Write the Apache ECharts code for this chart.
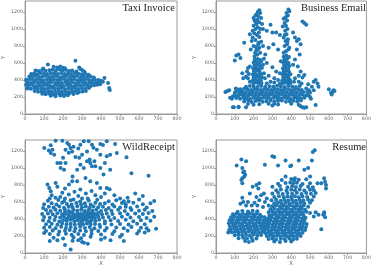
<!DOCTYPE html>
<html><head><meta charset="utf-8">
<script src="https://cdn.jsdelivr.net/npm/echarts@6/dist/echarts.min.js"></script>
<style>html,body{margin:0;padding:0;background:#fff}#c{width:374px;height:269px}</style>
</head><body><div id="c"></div>
<script>
var panelTitles = ['Taxi Invoice', 'Business Email', 'WildReceipt', 'Resume'];
var xTicks = [0, 100, 200, 300, 400, 500, 600, 700, 800];
var yTicks = [0, 200, 400, 600, 800, 1000, 1200];

var taxiPoints = [
[120,582],[150,555],[168,548],[185,560],[200,545],[210,538],[95,535],[285,548],[265,627],[290,530],
[55,512],[72,505],[90,518],[108,508],[128,515],[145,520],[162,510],[180,525],[197,512],[215,518],[232,505],[248,512],[270,500],[302,515],[312,498],
[32,470],[48,478],[64,468],[82,482],[100,474],[118,470],[136,480],[154,476],[172,470],[190,484],[208,472],[226,478],[244,470],[262,482],[280,474],[298,468],[316,480],[334,462],
[22,442],[38,438],[56,446],[74,436],[92,442],[110,448],[128,436],[146,440],[164,446],[182,434],[200,442],[218,448],[236,436],[254,440],[272,446],[290,434],[308,442],[326,438],[344,444],[362,430],
[8,402],[26,408],[44,400],[62,410],[80,404],[98,398],[116,408],[134,402],[152,410],[170,400],[188,406],[206,412],[224,400],[242,404],[260,410],[278,398],[296,406],[314,402],[332,410],[350,398],[368,404],[386,400],[400,390],
[14,372],[32,366],[50,376],[68,368],[86,374],[104,364],[122,372],[140,378],[158,366],[176,372],[194,364],[212,376],[230,368],[248,374],[266,362],[284,370],[302,376],[320,366],[338,372],[356,364],[374,370],[392,376],[380,345],
[20,336],[40,340],[58,330],[76,338],[94,332],[112,342],[130,334],[148,328],[166,340],[184,334],[202,330],[220,342],[238,336],[256,328],[274,338],[292,332],[310,340],[328,334],[346,330],[364,338],[5,345],
[12,302],[30,296],[48,306],[66,298],[84,304],[102,294],[120,302],[138,308],[156,296],[174,300],[192,306],[210,294],[228,302],[246,298],[264,306],[282,294],[300,302],[318,298],[336,306],
[50,270],[68,262],[86,268],[104,260],[122,272],[140,264],[158,258],[176,270],[194,262],[212,268],[230,258],[248,266],[266,272],[284,260],[302,266],[320,270],
[90,238],[108,232],[126,240],[144,230],[162,236],[180,242],[198,230],[216,238],[234,244],[255,236],[275,248],
[135,215],[160,210],[185,218],[205,212],[225,222],
[418,423],[437,364],[443,306],[446,282],[410,380],[395,350],[5,400],[10,300]
];

var emailPoints = [
[150,148],[172,155],[190,142],[210,152],[228,160],[248,145],[268,150],[290,158],[310,146],[330,152],[350,160],[372,144],[392,150],[412,156],[432,146],[452,160],
[108,188],[128,180],[146,192],[164,184],[182,178],[200,190],[218,186],[236,180],[254,192],[272,184],[290,178],[308,190],[326,186],[344,180],[362,192],[380,184],[398,178],[416,190],[434,186],[452,180],[470,190],
[100,222],[118,216],[136,228],[154,220],[172,214],[190,226],[208,220],[226,214],[244,226],[262,220],[280,214],[298,226],[316,220],[334,214],[352,226],[370,220],[388,214],[406,226],[424,220],[442,214],[460,226],[478,218],
[105,258],[123,250],[141,262],[159,254],[177,248],[195,260],[213,254],[231,248],[249,260],[267,254],[285,248],[303,260],[321,254],[339,248],[357,260],[375,254],[393,248],[411,260],[429,254],[447,248],[465,258],
[112,292],[130,286],[150,296],[168,288],[186,282],[204,294],[222,288],[240,282],[258,294],[276,288],[294,282],[312,294],[330,288],[348,282],[366,294],[384,288],[402,282],[420,294],[438,288],[456,282],
[160,322],[180,330],[200,324],[220,318],[240,330],[262,322],[285,328],[305,320],[325,332],[345,324],[365,318],[385,330],[405,324],[425,318],[445,330],
[170,118],[230,115],[280,122],[330,112],[400,120],[200,110],
[198,362],[212,370],[228,358],[242,366],[195,395],[210,402],[224,390],[238,398],[200,430],[214,438],[230,426],[244,434],
[196,465],[210,472],[226,460],[240,468],[202,500],[216,508],[232,496],[198,535],[212,542],[228,530],[244,540],
[204,570],[218,578],[234,566],[200,605],[214,612],[230,600],[206,640],[222,648],[236,636],
[205,680],[220,700],[235,720],[215,750],[230,780],[200,800],[225,820],[240,850],[210,870],[195,900],[230,905],[218,930],[180,940],[195,980],[210,1000],[200,1040],[215,1060],[205,1100],[220,1110],[225,1150],[215,1170],[235,1190],[230,1220],[240,1130],[245,1060],[250,1000],[228,960],[190,860],[185,760],[240,620],[250,580],[255,650],[262,700],[270,980],[250,800],[235,1000],
[208,720],[222,760],[212,790],[226,840],[204,950],[222,1020],[212,1080],[230,1080],[200,1130],[222,1200],[210,1160],
[356,362],[370,370],[384,358],[396,366],[352,395],[366,402],[380,390],[394,398],[358,430],[372,438],[386,426],
[354,465],[368,472],[382,460],[396,468],[360,500],[374,508],[388,496],[356,535],[370,542],[384,530],
[362,570],[376,578],[390,566],[358,605],[372,612],[386,600],[364,640],[378,648],[360,675],[374,690],[388,670],
[360,720],[372,740],[385,760],[365,800],[378,820],[390,780],[370,860],[382,880],[360,900],[375,940],[368,980],[380,1000],[372,1040],[365,1070],[378,1100],[370,1140],[382,1160],[375,1190],[385,1230],[390,1210],[360,1120],[355,1030],[366,930],[380,850],
[410,960],[420,900],[430,860],[440,880],[450,820],[430,760],[445,700],[460,1090],[470,1070],[480,1050],[420,640],[435,560],[450,500],[440,450],[460,430],[470,460],[410,580],[420,420],[415,380],[440,380],[455,360],
[290,1050],[300,960],[320,960],[305,820],[280,780],[330,760],[340,930],[270,600],[300,550],[320,500],[280,450],[340,480],[260,420],[310,420],[330,400],[290,380],[270,360],[340,360],[310,370],[255,480],[345,620],
[50,260],[60,270],[70,280],[75,190],[90,210],[95,80],[100,250],[105,300],[110,200],[120,80],[125,260],[85,180],[130,290],[140,240],[100,630],[108,690],[120,700],[130,660],[140,480],[145,420],[150,840],[160,440],[170,540],[180,560],[165,500],[175,470],[160,80],[155,180],[180,380],[170,420],
[480,300],[490,220],[500,250],[505,180],[510,320],[520,380],[530,400],[540,360],[545,320],[520,280],[530,105],[450,90],[460,80],[470,75],[480,80],[440,110],[490,350],[500,200],[495,280],[485,260],
[600,290],[612,250],[615,230],[620,260],[625,280],[630,270],
[300,100],[310,120],[90,80],[120,85]
];

var wildPoints = [
[161,1322],[196,1322],[222,1294],[309,1314],[335,1314],[396,1282],[430,1314],[474,1282],[101,1236],[135,1267],[144,1216],[135,1177],[153,1157],[231,1275],[239,1236],[248,1196],[213,1216],[291,1275],[300,1157],[326,1196],[352,1275],[378,1216],[396,1157],[430,1138],[448,1157],[483,1177],[534,1126],
[170,1060],[187,1060],[213,1060],[187,1001],[205,981],[274,981],[291,1040],[309,1001],[343,1060],[352,1021],[370,1021],[326,1079],[396,1001],[413,923],[448,981],[318,884],[255,1250],[280,1230],[360,1240],[410,1270],[125,1205],[230,1180],[265,1130],[340,1100],[365,1080],[285,1120],[200,1120],[420,1060],
[274,845],[248,845],[231,806],[291,747],[343,845],[378,825],[396,766],[430,766],[161,825],[118,806],[127,766],[135,727],[196,708],[560,940],[650,910],[140,680],[160,650],[185,660],[210,640],[230,690],[260,720],[280,670],[300,640],[320,700],[350,730],[370,680],[400,660],[420,700],[445,750],[470,680],[500,640],[520,610],[580,700],[540,650],[170,780],[210,760],[250,900],[240,620],[330,640],[130,640],[620,670],
[120,615],[175,625],[205,610],[255,630],[290,605],[335,618],[380,628],[440,610],[480,622],[545,605],[600,630],[680,612],
[100,575],[140,585],[165,570],[195,590],[220,578],[245,570],[270,588],[295,575],[315,585],[345,572],[370,590],[395,578],[420,585],[460,570],[510,588],[530,575],[570,590],[620,575],[660,585],
[95,530],[125,545],[150,535],[180,548],[205,532],[230,545],[250,535],[275,550],[300,538],[320,546],[340,532],[360,548],[385,538],[410,545],[440,530],[470,548],[500,535],[530,545],[555,530],[590,548],[640,535],
[110,505],[135,495],[160,508],[185,498],[210,510],[230,495],[255,505],[275,498],[295,510],[315,495],[335,505],[355,498],[375,510],[400,495],[425,505],[455,498],[490,510],[525,495],[560,505],[600,498],[630,508],[670,495],
[90,458],[120,465],[145,455],[170,468],[195,455],[215,462],[235,470],[255,455],[275,465],[292,458],[310,470],[328,455],[345,465],[365,458],[385,470],[405,455],[430,465],[460,458],[500,468],[540,455],[580,465],[620,458],[650,470],
[100,425],[130,415],[160,428],[185,418],[205,425],[225,412],[245,428],[262,418],[280,425],[298,412],[315,428],[332,418],[350,425],[368,412],[386,428],[410,418],[440,425],[470,412],[510,428],[555,418],[600,425],[640,412],[680,428],
[95,385],[125,375],[155,388],[180,372],[200,385],[220,378],[240,390],[260,375],[278,385],[296,378],[314,390],[332,375],[350,385],[370,378],[390,390],[420,375],[450,385],[490,378],[530,390],[570,375],[610,385],[660,380],
[110,338],[140,345],[170,332],[195,348],[218,335],[240,345],[262,332],[285,342],[305,335],[325,348],[345,335],[368,342],[392,332],[420,348],[455,335],[500,342],[545,335],[590,345],[630,338],
[100,298],[130,305],[160,292],[190,308],[215,295],[240,305],[265,292],[290,308],[315,295],[340,305],[365,292],[395,305],[430,295],[480,300],[520,290],[560,305],[610,298],[640,290],[690,285],
[110,258],[145,265],[180,252],[210,262],[235,270],[260,255],[290,265],[320,255],[350,268],[385,258],[420,265],[470,255],[540,262],[600,258],[650,265],
[100,235],[130,225],[175,218],[215,228],[245,215],[280,225],[310,212],[350,228],[400,218],[460,225],[510,215],[590,230],[630,240],
[150,180],[200,170],[255,185],[295,175],[345,190],[420,180],[500,190],
[240,40],[300,130],[310,120],[330,110],[130,140],[210,95],[520,140],[170,150],[250,145],[400,160],[450,150],[280,150],
[305,410],[320,395],[335,440],[350,405],[310,445],[290,430],[345,370],[360,440],[325,425],[300,360],[280,400],[270,440],[250,410],[230,440],[220,400],[200,450],[330,470],[355,480],[380,450],[245,480],[210,480]
];

var resumePoints = [
[115,485],[140,495],[170,488],[195,498],[220,490],
[90,455],[108,462],[126,450],[144,460],[162,452],[180,465],[198,455],[216,462],[234,450],
[80,420],[98,428],[116,416],[134,425],[152,418],[170,430],[188,420],[206,426],[224,415],[242,428],[258,420],
[72,385],[90,392],[108,380],[126,390],[144,384],[162,394],[180,382],[198,390],[216,384],[234,392],[252,380],[268,390],
[68,350],[86,356],[104,346],[122,354],[140,348],[158,358],[176,346],[194,354],[212,348],[230,356],[248,346],[266,354],
[74,315],[92,320],[110,310],[128,318],[146,312],[164,322],[182,310],[200,318],[218,312],[236,320],[254,310],[272,318],
[78,280],[96,285],[114,275],[132,283],[150,277],[168,287],[186,275],[204,283],[222,277],[240,285],[258,275],
[85,245],[103,250],[121,240],[139,248],[157,242],[175,252],[193,240],[211,248],[229,242],[247,250],
[100,210],[120,215],[140,205],[160,213],[180,207],[200,217],[220,205],[240,212],
[120,175],[145,180],[165,170],[190,178],[215,172],[155,140],[175,130],[195,145],
[70,270],[75,260],[65,240],
[110,1030],[135,1100],[140,1000],[145,950],[150,900],[140,880],[155,920],[160,1080],[135,860],[150,960],[140,820],
[140,650],[145,600],[130,580],[195,780],[215,800],[225,760],[230,820],[180,700],
[310,135],[340,130],[370,140],[400,135],
[280,165],[300,170],[320,160],[345,172],[365,165],[390,170],[410,160],[430,168],
[270,200],[288,208],[306,196],[324,204],[342,198],[360,208],[378,196],[396,204],[414,198],[432,208],[450,200],
[262,235],[280,242],[298,230],[316,240],[334,232],[352,242],[370,230],[388,240],[406,232],[424,242],[442,230],[460,238],
[258,270],[276,278],[294,266],[312,276],[330,268],[348,278],[366,266],[384,276],[402,268],[420,278],[438,266],[456,276],[474,270],
[262,305],[280,312],[298,300],[316,310],[334,302],[352,312],[370,300],[388,310],[406,302],[424,312],[442,300],[460,310],[478,305],
[266,340],[284,348],[302,336],[320,346],[338,338],[356,348],[374,336],[392,346],[410,338],[428,348],[446,336],[464,346],[482,340],
[272,375],[290,382],[308,370],[326,380],[344,372],[362,382],[380,370],[398,380],[416,372],[434,382],[452,370],[470,380],
[278,410],[296,418],[314,406],[332,416],[350,408],[368,418],[386,406],[404,416],[422,408],[440,418],[458,406],[476,416],
[285,445],[303,452],[321,440],[339,450],[357,442],[375,452],[393,440],[411,450],[429,442],[447,452],[465,440],
[280,480],[300,488],[318,476],[336,486],[354,478],[372,488],[390,476],[408,486],[426,478],[444,488],[462,476],[480,486],
[290,515],[310,522],[330,510],[348,520],[366,512],[384,522],[402,510],[420,520],[438,512],[456,522],[474,510],
[300,550],[320,558],[340,546],[358,556],[376,548],[394,558],[412,546],[430,556],[448,548],[466,558],[490,545],
[310,585],[330,592],[350,580],[370,590],[390,582],[410,592],[430,580],[450,590],[470,582],[500,590],
[295,620],[320,628],[345,615],[365,625],[385,618],[405,628],[425,615],[445,625],[465,618],[490,628],[510,620],
[310,660],[335,668],[360,655],[380,665],[400,658],[420,668],[440,655],[460,665],[485,658],[520,665],
[300,700],[330,708],[355,695],[380,705],[405,698],[430,708],[455,695],[480,705],[505,698],[530,705],
[320,740],[345,748],[375,735],[400,745],[420,738],[445,748],[470,735],[500,745],[520,738],
[300,780],[340,788],[380,775],[405,785],[425,778],[450,790],[490,780],[515,775],
[330,815],[370,825],[395,830],[410,818],[430,826],[460,812],[500,820],
[350,860],[400,870],[415,855],[440,862],[480,868],[370,900],[420,880],[500,900],
[250,540],[260,600],[270,640],[240,680],[230,620],[220,560],[280,560],[255,700],[215,660],[205,590],[190,560],[170,600],[160,560],
[260,1040],[300,1140],[310,1130],[330,1030],[370,1090],[400,1030],[440,1090],[470,980],[490,1000],[510,1090],[515,1190],[525,1210],[395,1020],
[560,820],[575,880],[580,840],[585,800],[585,760],[560,280],[570,450],[575,480],[580,420],[575,460],[540,820],[545,450],[530,480],[500,470],[520,430]
];

var panelData = [taxiPoints, emailPoints, wildPoints, resumePoints];

var grids = [
  {left: 24, top: 1, width: 153, height: 113},
  {left: 216, top: 1, width: 152, height: 113},
  {left: 24, top: 140, width: 153, height: 113},
  {left: 216, top: 140, width: 152, height: 113}
];
var axisColor = '#9a9a9a';
var labelColor = '#666';
var tickFont = 'DejaVu Sans';
function plainNumber(v) { return String(v); }

var option = {
  animation: false,
  grid: grids.map(function (g) {
    return Object.assign({show: true, borderColor: axisColor, borderWidth: 1, backgroundColor: '#fff'}, g);
  }),
  title: panelTitles.map(function (t, i) {
    var g = grids[i];
    return {
      text: t, padding: 0,
      right: 374 - (g.left + g.width) + 2,
      top: g.top + 2,
      textStyle: {fontFamily: 'Liberation Serif', fontSize: 10.5, fontWeight: 'normal', color: '#222'}
    };
  }),
  xAxis: grids.map(function (g, i) {
    return {
      gridIndex: i, type: 'value', min: 0, max: 800, interval: 100,
      name: i >= 2 ? 'X' : '', nameLocation: 'middle', nameGap: 7,
      nameTextStyle: {fontSize: 5.5, color: labelColor, fontFamily: tickFont},
      axisLine: {show: true, lineStyle: {color: axisColor, width: 1}},
      axisTick: {show: true, length: 2, lineStyle: {color: axisColor}, customValues: xTicks},
      axisLabel: {fontSize: 4.8, color: labelColor, margin: 2, fontFamily: tickFont, customValues: xTicks, formatter: plainNumber},
      splitLine: {show: false}
    };
  }),
  yAxis: grids.map(function (g, i) {
    return {
      gridIndex: i, type: 'value', min: 0, max: 1330,
      name: 'Y', nameLocation: 'middle', nameGap: 16,
      nameTextStyle: {fontSize: 5.5, color: labelColor, fontFamily: tickFont},
      axisLine: {show: true, lineStyle: {color: axisColor, width: 1}},
      axisTick: {show: true, length: 2, lineStyle: {color: axisColor}, customValues: yTicks},
      axisLabel: {fontSize: 4.8, color: labelColor, margin: 2, fontFamily: tickFont, customValues: yTicks, formatter: plainNumber},
      splitLine: {show: false}
    };
  }),
  series: panelData.map(function (d, i) {
    return {
      type: 'scatter', xAxisIndex: i, yAxisIndex: i, data: d,
      symbolSize: 4, itemStyle: {color: '#1f77b4', opacity: 1},
      emphasis: {disabled: true}, silent: true
    };
  })
};
var chart = echarts.init(document.getElementById('c'), null, {renderer: 'canvas'});
chart.setOption(option);
</script>
</body></html>
